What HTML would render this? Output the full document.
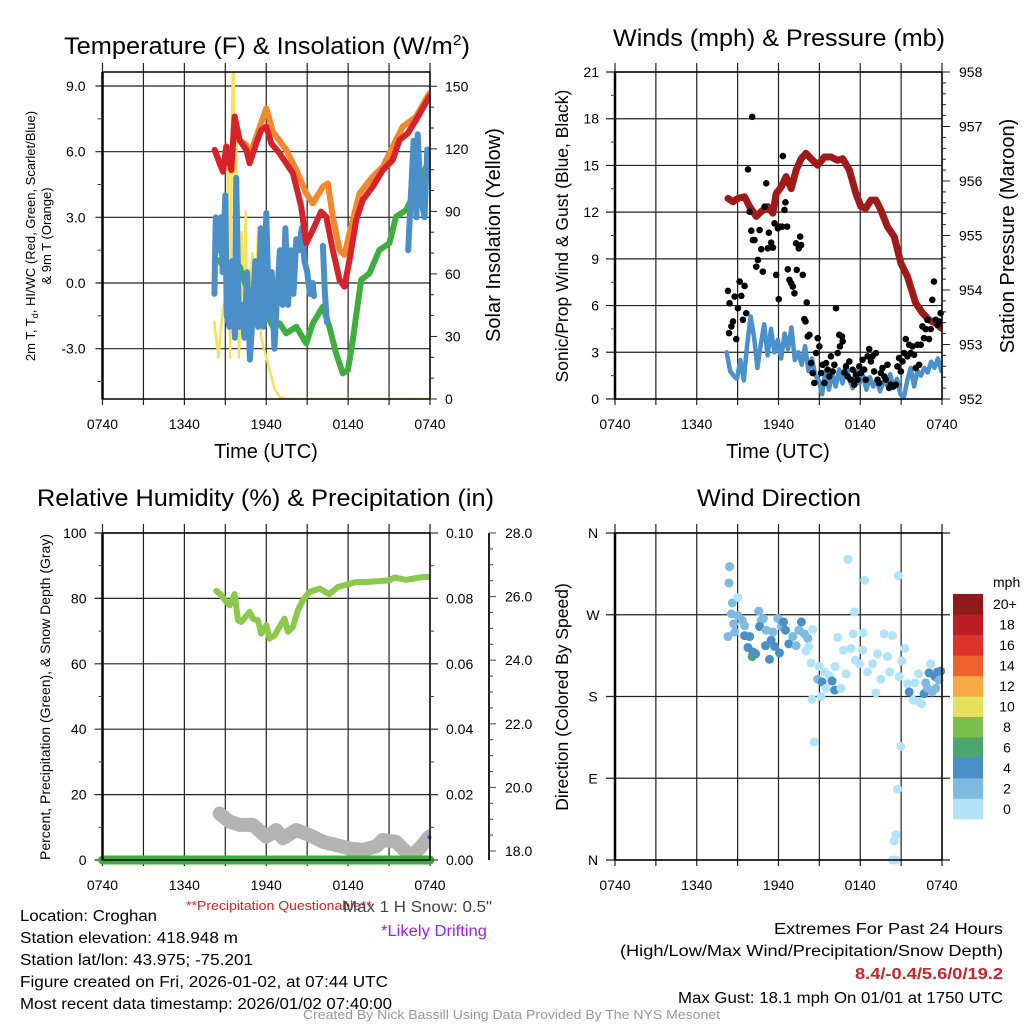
<!DOCTYPE html>
<html><head><meta charset="utf-8"><style>
html,body{margin:0;padding:0;background:#fff;}
svg{display:block;font-family:"Liberation Sans",sans-serif;}
</style></head><body>
<svg id="root" width="1024" height="1024" viewBox="0 0 1024 1024" xmlns="http://www.w3.org/2000/svg">
<defs>
<clipPath id="c1"><rect x="102.5" y="72" width="327.5" height="327"/></clipPath>
<clipPath id="c2"><rect x="615" y="72" width="327" height="327"/></clipPath>
<clipPath id="c3"><rect x="102.5" y="533" width="327.5" height="327"/></clipPath>
</defs>
<rect width="1024" height="1024" fill="#fff"/>
<g id="grid"></g>
<g id="marks"></g>
<g id="axes"></g>

<text x="64" y="54" font-size="24" textLength="406" lengthAdjust="spacingAndGlyphs">Temperature (F) &amp; Insolation (W/m<tspan font-size="15" dy="-9">2</tspan><tspan dy="9">)</tspan></text>
<text x="613" y="46" font-size="24" textLength="332" lengthAdjust="spacingAndGlyphs">Winds (mph) &amp; Pressure (mb)</text>
<text x="37" y="506" font-size="24" textLength="457" lengthAdjust="spacingAndGlyphs">Relative Humidity (%) &amp; Precipitation (in)</text>
<text x="697" y="506" font-size="24" textLength="164" lengthAdjust="spacingAndGlyphs">Wind Direction</text>

<text x="266" y="458" font-size="20" text-anchor="middle">Time (UTC)</text>
<text x="778" y="458" font-size="20" text-anchor="middle">Time (UTC)</text>

<text transform="translate(35,236) rotate(-90)" font-size="13" text-anchor="middle">2m T, T<tspan font-size="9" dy="3">d</tspan><tspan dy="-3">, HI/WC (Red, Green, Scarlet/Blue)</tspan></text>
<text transform="translate(51,236) rotate(-90)" font-size="13" text-anchor="middle">&amp; 9m T (Orange)</text>
<text transform="translate(500,235) rotate(-90)" font-size="20" text-anchor="middle">Solar Insolation (Yellow)</text>
<text transform="translate(568,236) rotate(-90)" font-size="17.5" text-anchor="middle">Sonic/Prop Wind &amp; Gust (Blue, Black)</text>
<text transform="translate(1014,236) rotate(-90)" font-size="20" text-anchor="middle">Station Pressure (Maroon)</text>
<text transform="translate(50,697) rotate(-90)" font-size="14" text-anchor="middle">Percent, Precipitation (Green), &amp; Snow Depth (Gray)</text>
<text transform="translate(568,697) rotate(-90)" font-size="17.5" text-anchor="middle">Direction (Colored By Speed)</text>

<text x="993" y="587" font-size="14" text-anchor="start">mph</text>
<g id="cbar"></g>

<text x="186" y="910" font-size="13" fill="#d62020" textLength="186" lengthAdjust="spacingAndGlyphs">**Precipitation Questionable**</text>
<text x="343" y="912" font-size="15.5" fill="#444" textLength="149" lengthAdjust="spacingAndGlyphs">Max 1 H Snow: 0.5"</text>
<text x="381" y="936" font-size="15.5" fill="#a020f0" textLength="106" lengthAdjust="spacingAndGlyphs">*Likely Drifting</text>

<text x="20" y="921" font-size="15.5" textLength="137" lengthAdjust="spacingAndGlyphs">Location: Croghan</text>
<text x="20" y="943" font-size="15.5" textLength="218" lengthAdjust="spacingAndGlyphs">Station elevation: 418.948 m</text>
<text x="20" y="965" font-size="15.5" textLength="233" lengthAdjust="spacingAndGlyphs">Station lat/lon: 43.975; -75.201</text>
<text x="20" y="987" font-size="15.5" textLength="368" lengthAdjust="spacingAndGlyphs">Figure created on Fri, 2026-01-02, at 07:44 UTC</text>
<text x="20" y="1009" font-size="15.5" textLength="372" lengthAdjust="spacingAndGlyphs">Most recent data timestamp: 2026/01/02 07:40:00</text>

<text x="774" y="934" font-size="15.5" textLength="229" lengthAdjust="spacingAndGlyphs">Extremes For Past 24 Hours</text>
<text x="620" y="956" font-size="15.5" textLength="383" lengthAdjust="spacingAndGlyphs">(High/Low/Max Wind/Precipitation/Snow Depth)</text>
<text x="855" y="979" font-size="15.5" font-weight="bold" fill="#c8242a" textLength="148" lengthAdjust="spacingAndGlyphs">8.4/-0.4/5.6/0/19.2</text>
<text x="678" y="1003" font-size="15.5" textLength="325" lengthAdjust="spacingAndGlyphs">Max Gust: 18.1 mph On 01/01 at 1750 UTC</text>
<text x="303" y="1019" font-size="12.5" fill="#999" textLength="417" lengthAdjust="spacingAndGlyphs">Created By Nick Bassill Using Data Provided By The NYS Mesonet</text>
</svg>
<script>
// ===== data (hours after 0740 UTC) =====
const xTickLabels = ["0740","1340","1940","0140","0740"];
const redHours = [8.22,8.59,8.83,9.07,9.44,9.68,10.05,10.54,10.78,11.27,11.63,12.0,12.37,12.98,13.46,13.95,14.2,14.56,14.93,15.41,16.02,16.39,16.88,17.37,17.73,18.1,18.59,19.07,19.8,20.54,21.27,21.76,22.37,22.98,23.95];
const redVals  = [6.08,5.47,5.09,6.23,5.16,7.6,6.53,6.08,5.47,6.38,6.99,7.14,6.38,5.92,5.47,5.01,4.4,3.49,1.81,2.42,3.26,3.03,1.51,0.14,-0.17,1.05,2.88,3.79,4.4,5.16,5.62,6.53,6.84,7.45,8.51];
const orangeHours = [8.22,8.59,8.83,9.07,9.44,9.68,10.05,10.54,10.78,11.27,12.0,12.49,13.46,14.2,14.93,15.41,16.15,16.51,16.88,17.37,17.73,18.1,18.83,19.8,20.54,21.27,22.0,22.98,23.95];
const orangeVals  = [6.08,5.47,5.09,6.23,5.16,7.6,6.53,6.3,5.8,6.69,7.98,6.91,6.08,5.16,4.1,3.64,4.4,4.55,3.03,1.51,1.28,2.27,4.1,4.86,5.31,6.23,7.14,7.6,8.66];
const greenHours = [8.59,9.07,9.56,10.05,10.54,11.02,11.51,12.0,12.49,12.98,13.46,14.2,14.93,15.41,16.15,16.63,17.12,17.61,17.98,18.34,18.95,19.56,20.29,21.02,21.51,22.24,22.98,23.71];
const greenVals  = [1.05,0.44,0.29,0.75,-0.17,-0.47,-0.93,-1.39,-2.0,-1.84,-2.3,-2.0,-2.76,-1.84,-1.08,-2.0,-3.21,-4.13,-3.98,-2.61,0.14,0.44,1.51,1.81,3.03,3.33,4.25,5.31];
const blueHours = [8.2,8.3,8.5,8.7,8.8,9.0,9.1,9.3,9.5,9.7,9.8,10.0,10.2,10.4,10.6,10.8,11.0,11.2,11.4,11.6,11.8,12.0,12.2,12.4,12.6,12.8,13.0,13.2,13.4,13.6,13.8,14.0,14.2,14.4,14.6,14.8,15.0,15.2,15.4,15.5, 16.15,16.3,16.45, 22.4,22.6,22.8,23.0,23.1,23.3,23.6,23.8,23.95];
const blueVals  = [-0.5,3.0,1.5,3.0,0.5,4.0,-1.5,-2.0,1.0,-2.5,4.8,-2.0,-1.0,-2.5,0.5,-3.5,-1.5,1.0,-2.0,2.5,-2.0,3.2,-1.5,0.5,-3.0,-0.5,1.5,-1.0,2.5,-1.0,1.5,-0.5,2.0,1.5,2.5,1.0,0.5,-0.5,0.0,-0.6, 1.7,-0.5,-1.8, 1.5,4.0,6.5,3.0,6.8,4.0,3.0,6.1,5.0];
const blueBreaks = [40,43]; // series restarts at these indices (data gaps)
const solarHours = [8.2,8.4,8.5,8.6,8.8,9.0,9.1,9.2,9.3,9.35,9.5,9.6,9.7,9.8,9.9,10.0,10.1,10.2,10.3,10.5,10.6,10.8,11.0,11.2,11.4,11.5,11.6,11.8,12.0,12.2,12.4,12.6,13.0,13.5,18,24];
const solarVals  = [37,25,20,28,42,48,58,115,60,20,140,165,100,130,60,20,50,80,45,90,30,55,70,40,82,80,30,25,20,15,10,5,1,0,0,0];

const windHours0 = 8.2, windStep = 0.25;
const windVals = [3.0,1.8,1.5,1.3,2.5,1.2,3.5,5.3,4.0,2.0,3.5,4.8,2.8,4.5,3.0,3.8,2.6,4.2,3.2,4.6,2.5,3.0,2.2,3.4,1.8,2.6,1.5,1.2,0.3,1.8,0.6,1.6,0.8,1.9,1.0,2.2,1.2,0.7,1.8,1.0,1.5,0.6,1.4,0.8,1.2,0.5,1.1,0.9,1.6,0.7,1.3,0.3,0.1,1.2,2.0,0.8,1.8,1.5,2.0,1.7,2.4,2.0,2.6,1.8];
const gustHours = [8.29,8.41,8.54,8.37,8.66,8.78,8.9,9.02,9.15,9.27,9.39,9.51,9.63,9.76,9.88,10.0,10.07,10.12,10.24,10.37,10.49,10.61,10.73,10.85,10.98,11.1,11.22,11.29,11.46,11.59,11.71,11.83,11.95,12.02,12.12,12.27,12.32,12.44,12.51,12.63,12.68,12.8,12.93,13.05,13.17,13.29,13.34,13.49,13.59,13.66,13.78,13.9,13.98,14.07,14.15,14.27,14.39,14.51,14.63,14.76,14.88,15.0,15.12,15.24,15.37,15.49,15.61,15.73,15.85,15.98,16.1,16.22,16.34,16.46,16.51,16.66,16.71,16.83,16.95,17.07,17.2,17.32,17.44,17.56,17.68,17.8,17.93,18.05,18.17,18.29,18.41,18.54,18.66,18.78,18.9,19.02,19.15,19.27,19.39,19.51,19.63,19.76,19.88,20.0,20.12,20.24,20.37,20.49,20.61,20.73,20.85,20.98,21.1,21.22,21.34,21.46,21.59,21.71,21.83,21.95,22.07,22.2,22.32,22.44,22.56,22.68,22.8,22.93,23.05,23.17,23.29,23.41,23.54,23.66,23.78,23.9];
const gustVals = [6.94,6.15,4.66,4.23,4.98,6.58,3.85,5.83,7.54,6.62,5.09,7.26,5.51,14.74,12.03,10.81,18.12,10.21,10.21,8.5,8.93,10.85,9.62,8.18,12.35,13.85,9.68,10.68,10.04,9.72,11.28,7.97,10.96,6.41,11.07,11.07,15.6,12.14,12.63,11.07,8.33,7.65,7.44,7.22,6.79,10.0,8.29,9.68,10.43,9.89,7.97,5.13,4.98,6.2,4.02,4.12,2.31,1.67,1.03,2.95,3.91,3.38,1.67,2.2,1.03,2.31,1.88,1.45,2.74,1.77,2.2,5.83,2.95,4.12,3.38,4.02,3.7,1.71,2.09,1.45,2.41,1.24,1.88,0.92,1.56,1.24,2.09,1.67,2.52,1.88,1.24,2.74,3.21,2.41,2.74,1.77,2.95,1.24,1.03,1.67,1.99,1.45,1.24,2.2,0.71,0.92,0.81,0.85,0.92,2.09,2.63,1.77,2.41,2.95,3.85,2.74,3.48,2.95,3.38,2.84,1.99,3.48,2.2,3.48,4.66,3.91,4.49,5.09,3.85,4.49,6.37,7.54,5.09,4.76,4.98,5.51];
const presHours = [8.29,8.66,9.02,9.51,9.88,10.37,10.73,11.22,11.59,11.83,12.2,12.56,12.93,13.29,13.66,14.02,14.39,14.88,15.37,15.85,16.34,16.71,17.2,17.68,18.05,18.41,18.78,19.15,19.51,20.0,20.49,20.98,21.46,22.07,22.56,23.05,23.54,23.95];
const presVals  = [955.68,955.62,955.68,955.71,955.53,955.35,955.44,955.53,955.41,955.77,955.89,956.08,955.86,956.2,956.41,956.51,956.41,956.29,956.44,956.44,956.38,956.41,956.2,955.77,955.53,955.5,955.65,955.65,955.47,955.16,954.98,954.49,954.25,953.76,953.58,953.45,953.39,953.3];

const rhHours = [8.34,8.71,8.95,9.32,9.68,9.93,10.17,10.78,11.02,11.39,11.63,12.0,12.24,12.61,12.98,13.34,13.59,13.95,14.32,14.68,15.17,15.9,16.63,17.24,17.98,18.59,19.32,20.29,21.02,21.39,22.24,23.22,24.0];
const rhVals  = [82.3,81,79.6,77.9,81.3,73.3,72.8,75.9,73.8,73.3,69.2,71.8,67.7,68.7,71.3,73.8,69.8,71.3,76.4,79.4,82,83,81.3,83.5,84.3,85,85,85.3,85.5,86.4,85.7,86.4,86.6];
const snowHours = [8.58,9.32,10.05,11.02,12.0,12.73,13.22,14.2,15.17,16.15,17.12,18.1,19.07,20.05,20.54,21.51,22.61,23.22,23.95];
const snowVals  = [19.18,18.92,18.82,18.82,18.45,18.66,18.4,18.66,18.5,18.29,18.19,18.08,18.03,18.14,18.35,18.29,17.82,18.08,18.45];
const precipHours = [0,24];
const precipVals = [0,0];

const dirHours = [8.41,8.37,8.61,9.02,8.54,9.02,8.71,9.34,9.51,8.29,8.78,9.51,9.88,9.76,10.12,10.07,10.32,10.54,10.73,10.61,10.9,11.1,11.05,11.34,11.46,11.59,11.71,11.95,12.07,12.2,12.37,12.51,12.76,13.05,13.29,13.49,13.68,13.9,14.15,14.22,14.02,14.51,14.39,14.63,14.46,15.0,14.88,15.2,15.37,15.49,15.12,15.73,15.93,16.12,16.34,16.15,16.59,16.78,16.95,17.1,17.32,17.49,17.56,17.63,17.93,18.17,18.32,18.22,18.54,18.9,19.15,19.27,19.51,19.76,20.0,20.17,20.37,20.8,21.05,21.27,20.85,20.98,20.73,20.61,20.49,20.37,20.61,21.46,21.59,21.88,22.02,22.27,22.51,22.68,22.8,23.05,23.17,23.29,23.49,23.66,23.78,23.9,23.54,22.93,22.32];
const dirVals  = [323,305,283,289,271,269,260,264,258,246,251,247,246,234,229,224,227,274,264,257,266,253,236,221,242,251,235,266,228,257,262,253,238,246,236,253,262,249,244,235,230,254,217,130,177,213,199,196,207,189,180,203,197,187,245,213,189,231,205,331,233,249,273,220,216,231,308,250,207,216,184,227,199,249,224,207,247,313,219,233,202,125,78,28,21,0,0,194,185,176,195,205,172,183,195,206,216,185,202,207,198,208,189,189,174];
const dirSpeeds = [3,3,3,1,3,3,3,3,3,3,3,5,5,5,5,7,5,3,3,5,3,3,5,5,5,3,5,3,5,3,5,5,5,3,3,3,5,3,3,1,1,1,1,1,1,1,3,5,1,1,1,1,5,5,1,1,1,1,1,1,1,1,1,1,1,1,1,1,1,1,1,1,1,1,1,1,1,1,1,1,1,1,1,1,1,1,1,1,5,1,1,1,1,5,3,5,1,3,5,5,3,5,3,3,1];
const cbarLabels = ["0","2","4","6","8","10","12","14","16","18","20+"];
const cbarColors = ["#b3e3f8","#7fbae3","#4a90c7","#4aa56e","#7cc04c","#e6e05a","#f6a945","#ef622e","#dc3428","#bd1e26","#8e1a1c"];

// ===== helpers =====
const NS = "http://www.w3.org/2000/svg";
function mk(tag, attrs, parent){ const e=document.createElementNS(NS,tag); for(const k in attrs) e.setAttribute(k,attrs[k]); parent.appendChild(e); return e; }
const G = document.getElementById("grid"), M = document.getElementById("marks"), A = document.getElementById("axes");
const P = {
  p1:{x0:102.5,x1:430,y0:72,y1:399}, p2:{x0:615,x1:942,y0:72,y1:399},
  p3:{x0:102.5,x1:430,y0:533,y1:860}, p4:{x0:615,x1:942,y0:533,y1:860}
};
function xs(p,h){ return p.x0 + h/24*(p.x1-p.x0); }
function lin(d0,d1,r0,r1){ return v => r0 + (v-d0)/(d1-d0)*(r1-r0); }
const yT = lin(0,9,283,86), yS = lin(0,150,399,86.3);
const yW = lin(0,21,399,72), yP = lin(952,958,399,72);
const yRH = lin(0,100,860,533), yPr = lin(0,0.1,860,533), ySn = lin(18,28,851,533);
const yD = lin(0,360,860,533);

function line(x1,y1,x2,y2,stroke,w,parent,name){
  const l=mk("line",{x1,y1,x2,y2,stroke,"stroke-width":w},parent);
  
  
  return l;
}
function txt(x,y,s,anchor,size,parent,name){
  const t=mk("text",{x,y,"font-size":size,"text-anchor":anchor},parent); t.textContent=s;
  
  
  return t;
}
function pathD(p,hs,vs,ys,breaks){
  let d=""; for(let i=0;i<hs.length;i++){ const c=(i===0||(breaks&&breaks.includes(i)))?"M":"L"; d+=c+xs(p,hs[i]).toFixed(1)+","+ys(vs[i]).toFixed(1)+" "; } return d;
}
function series(p,hs,vs,ys,color,w,clip,name,breaks){
  const e=mk("path",{d:pathD(p,hs,vs,ys,breaks),fill:"none",stroke:color,"stroke-width":w,"stroke-linejoin":"round","stroke-linecap":"round","clip-path":clip?"url(#"+clip+")":""},M);
  
  
  return e;
}

// ===== frames, time grid =====
["p1","p2","p3","p4"].forEach(k=>{
  const p=P[k];
  for(let h=0;h<=24;h+=3){
    const x=xs(p,h);
    line(x,p.y0-9,x,p.y1+6,"#222",1.2,G,"vertical-gridline");
    if(h%6===0) txt(x,p.y1+30,xTickLabels[h/6],"middle",14,A,"x-tick-label");
  }
  const r=mk("rect",{x:p.x0,y:p.y0,width:p.x1-p.x0,height:p.y1-p.y0,fill:"none",stroke:"#000","stroke-width":1.5},A);
  
  
  line(p.x0,p.y0,p.x0,p.y1,"#000",2.5,A,"left-axis-line");
});

// panel 1 axes
(function(){
  const p=P.p1;
  [9,6,3,0,-3].forEach(v=>{ const y=yT(v); line(p.x0-7,y,p.x1,y,"#222",1.2,G,"temp-gridline"); txt(p.x0-17,y+5,v.toFixed(1),"end",14,A,"temp-tick-label"); });
  [7.5,4.5,1.5,-1.5,-4.5].forEach(v=>{ const y=yT(v); line(p.x0-5,y,p.x0,y,"#444",1,A,"temp-minor-tick"); });
  for(let w=0;w<=150;w+=10){ const y=yS(w); const maj=w%30===0; line(p.x1,y,p.x1+(maj?7:4),y,"#222",1,A,"solar-tick"); if(maj) txt(p.x1+15,y+5,String(w),"start",14,A,"solar-tick-label"); }
})();
// panel 2 axes
(function(){
  const p=P.p2;
  for(let v=0;v<=21;v+=3){ const y=yW(v); line(p.x0-9,y,p.x1,y,"#222",1.2,G,"wind-gridline"); txt(p.x0-16,y+5,String(v),"end",14,A,"wind-tick-label"); }
  for(let v=1.5;v<21;v+=3){ const y=yW(v); line(p.x0-4,y,p.x0,y,"#444",1,A,"wind-minor-tick"); }
  for(let i=0;i<=30;i++){ const pv=952+i*0.2; const y=yP(pv); const maj=i%5===0; line(p.x1,y,p.x1+(maj?8:4),y,"#222",1,A,"pressure-tick"); if(maj) txt(p.x1+17,y+5,String(Math.round(pv)),"start",14,A,"pressure-tick-label"); }
})();
// panel 3 axes
(function(){
  const p=P.p3;
  for(let v=0;v<=100;v+=20){ const y=yRH(v); line(p.x0-8,y,p.x1+8,y,"#222",1.2,G,"rh-gridline"); txt(p.x0-16,y+5,String(v),"end",14,A,"rh-tick-label"); }
  for(let v=10;v<100;v+=20){ const y=yRH(v); line(p.x0-4,y,p.x0,y,"#444",1,A,"rh-minor-tick"); }
  for(let i=0;i<=10;i++){ const y=yPr(i*0.01); line(p.x1,y,p.x1+(i%2===0?8:4),y,"#444",1,A,"precip-tick"); if(i%2===0) txt(p.x1+16,y+5,(i*0.01).toFixed(2),"start",14,A,"precip-tick-label"); }
  const ax=489; line(ax,533,ax,860,"#222",2,A,"snow-axis-line");
  for(let s=18;s<=28.01;s+=0.5){ const y=ySn(s); const maj=Math.abs(s-Math.round(s/2)*2)<0.01; line(ax,y,ax+(maj?7:4),y,"#444",1,A,"snow-tick"); if(maj) txt(ax+16,y+5,s.toFixed(1),"start",14,A,"snow-tick-label"); }
})();
// panel 4 axes
(function(){
  const p=P.p4; const lab=["N","E","S","W","N"];
  for(let i=0;i<=4;i++){ const y=yD(i*90); line(p.x0-9,y,p.x1+8,y,"#222",1.2,G,"direction-gridline"); txt(p.x0-22,y+5,lab[i],"middle",14,A,"direction-tick-label"); }
})();

// ===== series =====
series(P.p1,solarHours,solarVals,yS,"#f7e15a",2.5,"c1","solar-insolation-line");
series(P.p1,greenHours,greenVals,yT,"#3fae3f",6,"c1","dewpoint-line");
series(P.p1,blueHours,blueVals,yT,"#4a8fc8",6,"c1","wind-chill-line",blueBreaks);
series(P.p1,orangeHours,orangeVals,yT,"#f2872e",6,"c1","9m-temperature-line");
series(P.p1,redHours,redVals,yT,"#d62228",6,"c1","2m-temperature-line");

const windHours = windVals.map((_,i)=>windHours0+i*windStep);
series(P.p2,windHours,windVals,yW,"#4a90cc",4.5,"c2","wind-speed-line");
series(P.p2,presHours,presVals,yP,"#a01a1a",7,"c2","pressure-line");
gustHours.forEach((h,i)=>{
  const c=mk("circle",{cx:xs(P.p2,h),cy:yW(gustVals[i]),r:3.3,fill:"#000"},M);
  
  
});

series(P.p3,snowHours,snowVals,ySn,"#b3b3b3",14,"c3","snow-depth-line");
series(P.p3,rhHours,rhVals,yRH,"#8cc84b",6,"c3","relative-humidity-line");
series(P.p3,precipHours,precipVals,yPr,"#3cae3c",9,"","precipitation-line");
(function(){ const c=mk("circle",{cx:xs(P.p3,23.95),cy:yRH(7),r:2,fill:"#a020f0"},M);
  
   })();

function speedColor(s){ const i=Math.min(10,Math.floor(s/2)); return cbarColors[i]; }
dirHours.forEach((h,i)=>{
  const c=mk("circle",{cx:xs(P.p4,h),cy:yD(dirVals[i]),r:4.5,fill:speedColor(dirSpeeds[i])},M);
  
  
});

// colorbar
(function(){
  const cb=document.getElementById("cbar"); const top=594, bot=819, h=(bot-top)/11;
  cbarColors.forEach((col,i)=>{
    const y=bot-(i+1)*h;
    const r=mk("rect",{x:953,y:y,width:30,height:h+0.3,fill:col},cb);
    
    
    txt(i===10?993:1007,y+h/2+5,cbarLabels[i],i===10?"start":"middle",14,cb,"colorbar-label");
  });
})();
</script>
</body></html>
